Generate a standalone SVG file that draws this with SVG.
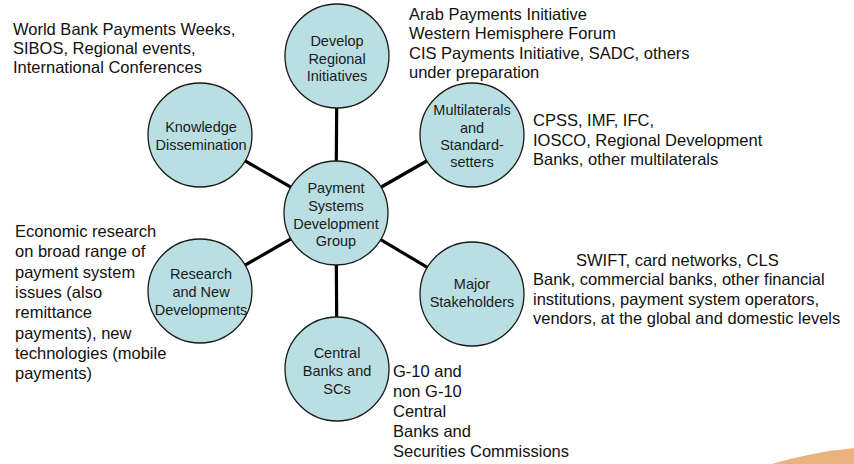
<svg xmlns="http://www.w3.org/2000/svg" width="854" height="464" viewBox="0 0 854 464">
  <style>
    .node circle { fill: #b9dfe3; stroke: #1a1a1a; stroke-width: 1.3; }
    .node text { font-family: "Liberation Sans", Arial, sans-serif; font-size: 14.5px; fill: #1a1a1a; text-anchor: middle; }
    .note { font-family: "Liberation Sans", Arial, sans-serif; font-size: 16.5px; fill: #111; }
    .links line { stroke: #000; stroke-width: 3.2; }
  </style>
  <rect width="854" height="464" fill="#ffffff"/>

  <!-- spokes from the hub to each satellite -->
  <g id="connectors" class="links">
    <line x1="336" y1="213" x2="337" y2="56"/>
    <line x1="336" y1="213" x2="200" y2="135"/>
    <line x1="336" y1="213" x2="472" y2="135"/>
    <line x1="336" y1="213" x2="200" y2="291"/>
    <line x1="336" y1="213" x2="472" y2="294"/>
    <line x1="336" y1="213" x2="337" y2="369"/>
  </g>

  <g id="node-regional" class="node">
    <circle cx="337" cy="56" r="52"/>
    <text x="337" y="46">Develop</text>
    <text x="337" y="63.5">Regional</text>
    <text x="337" y="81">Initiatives</text>
  </g>

  <g id="node-knowledge" class="node">
    <circle cx="200" cy="135" r="52"/>
    <text x="201" y="132">Knowledge</text>
    <text x="201" y="150">Dissemination</text>
  </g>

  <g id="node-multilaterals" class="node">
    <circle cx="472" cy="135" r="52"/>
    <text x="472" y="115">Multilaterals</text>
    <text x="472" y="132.5">and</text>
    <text x="472" y="150">Standard-</text>
    <text x="472" y="167">setters</text>
  </g>

  <g id="node-psdg" class="node">
    <circle cx="336" cy="213" r="52"/>
    <text x="336" y="193">Payment</text>
    <text x="336" y="211">Systems</text>
    <text x="336" y="228.5">Development</text>
    <text x="336" y="246">Group</text>
  </g>

  <g id="node-research" class="node">
    <circle cx="200" cy="291" r="52"/>
    <text x="201" y="279">Research</text>
    <text x="201" y="297">and New</text>
    <text x="201" y="315">Developments</text>
  </g>

  <g id="node-stakeholders" class="node">
    <circle cx="472" cy="294" r="52"/>
    <text x="472" y="289">Major</text>
    <text x="472" y="307">Stakeholders</text>
  </g>

  <g id="node-central-banks" class="node">
    <circle cx="337" cy="369" r="52"/>
    <text x="337" y="358">Central</text>
    <text x="337" y="376">Banks and</text>
    <text x="337" y="394">SCs</text>
  </g>

  <!-- annotations beside each satellite -->
  <g id="notes">
    <text class="note" x="13" y="35">World Bank Payments Weeks,</text>
    <text class="note" x="13" y="54">SIBOS, Regional events,</text>
    <text class="note" x="13" y="73">International Conferences</text>

    <text class="note" x="409" y="20">Arab Payments Initiative</text>
    <text class="note" x="409" y="39">Western Hemisphere Forum</text>
    <text class="note" x="409" y="58.5">CIS Payments Initiative, SADC, others</text>
    <text class="note" x="409" y="78">under preparation</text>

    <text class="note" x="533" y="126">CPSS, IMF, IFC,</text>
    <text class="note" x="533" y="145.5">IOSCO, Regional Development</text>
    <text class="note" x="533" y="165">Banks, other multilaterals</text>

    <text class="note" x="576" y="266">SWIFT, card networks, CLS</text>
    <text class="note" x="533" y="285">Bank, commercial banks, other financial</text>
    <text class="note" x="533" y="304.5">institutions, payment system operators,</text>
    <text class="note" x="533" y="324">vendors, at the global and domestic levels</text>

    <text class="note" x="15" y="237">Economic research</text>
    <text class="note" x="15" y="257.3">on broad range of</text>
    <text class="note" x="15" y="277.6">payment system</text>
    <text class="note" x="15" y="297.9">issues (also</text>
    <text class="note" x="15" y="318.2">remittance</text>
    <text class="note" x="15" y="338.5">payments), new</text>
    <text class="note" x="15" y="358.8">technologies (mobile</text>
    <text class="note" x="15" y="379.1">payments)</text>

    <text class="note" x="393" y="377">G-10 and</text>
    <text class="note" x="393" y="397">non G-10</text>
    <text class="note" x="393" y="417">Central</text>
    <text class="note" x="393" y="437">Banks and</text>
    <text class="note" x="393" y="457">Securities Commissions</text>
  </g>

  <!-- decorative swoosh in the lower right corner -->
  <path d="M 772 464 Q 812 452 854 448 L 854 464 Z" fill="#e9b27f"/>
</svg>
